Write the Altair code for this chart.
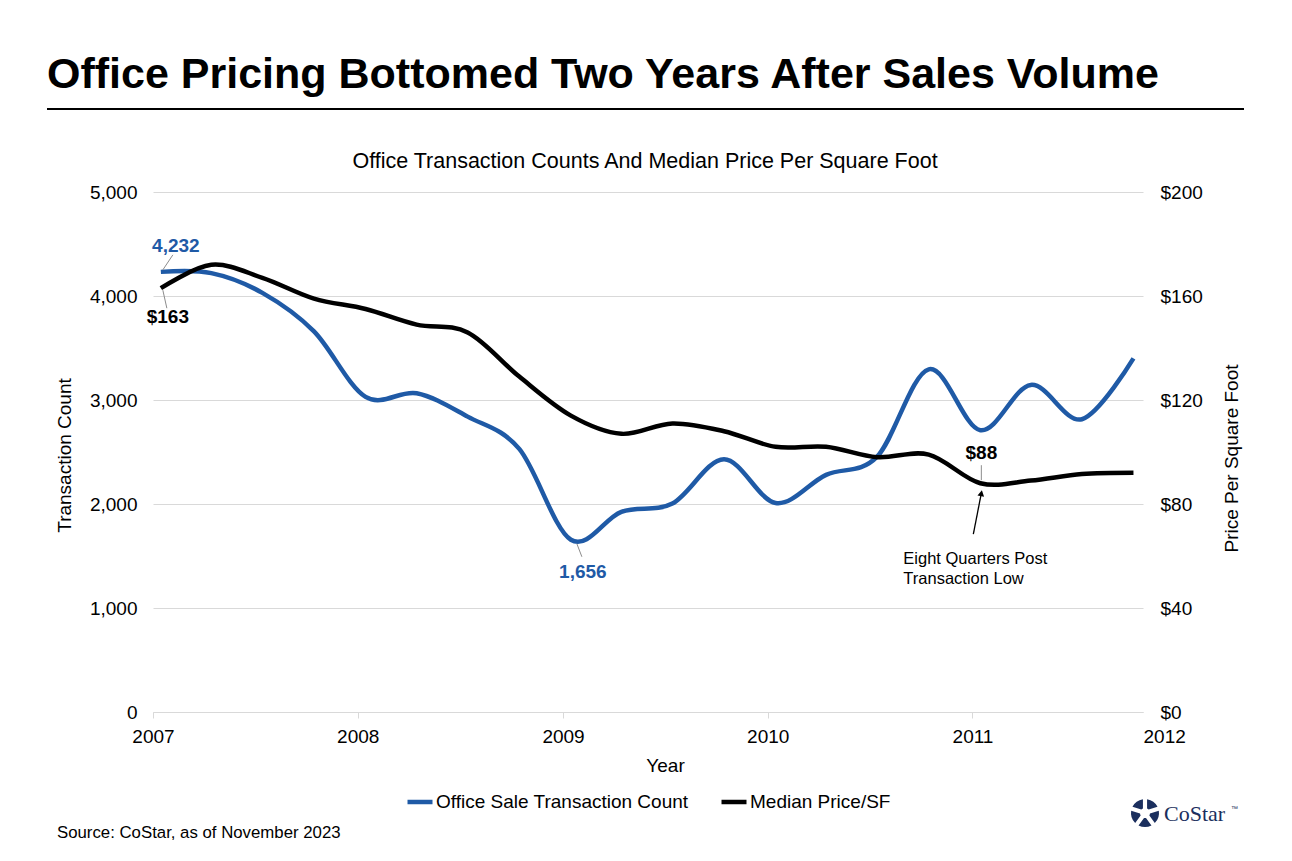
import altair as alt
import pandas as pd

FONT = "Liberation Sans"
SERIF = "Liberation Serif"

# ---------------- data ----------------
quarters = [
    "2007-01-15", "2007-04-15", "2007-07-15", "2007-10-15",
    "2008-01-15", "2008-04-15", "2008-07-15", "2008-10-15",
    "2009-01-15", "2009-04-15", "2009-07-15", "2009-10-15",
    "2010-01-15", "2010-04-15", "2010-07-15", "2010-10-15",
    "2011-01-15", "2011-04-15", "2011-07-15", "2011-10-15",
]
counts = [4232, 4220, 4030, 3660, 3030, 3065, 2840, 2530, 1656, 1925,
          2005, 2430, 2010, 2280, 2455, 3295, 2710, 3145, 2815, 3400]
prices = [163, 172, 167, 159, 155, 149, 146, 129, 114, 107,
          111, 108, 102, 102, 98, 99, 88, 89, 91.5, 92]
series_names = ["Office Sale Transaction Count", "Median Price/SF"]
series_colors = ["#1f5aa6", "#000000"]
left_ticks = [0, 1000, 2000, 3000, 4000, 5000]
right_ticks = [0, 40, 80, 120, 160, 200]
year_ticks = [2007, 2008, 2009, 2010, 2011]

title_text = "Office Pricing Bottomed Two Years After Sales Volume"
subtitle_text = "Office Transaction Counts And Median Price Per Square Foot"
source_text = "Source: CoStar, as of November 2023"
note_lines = ["Eight Quarters Post", "Transaction Low"]

BLUE = series_colors[0]
GRID = "#d9d9d9"
LEADER = "#8c8c8c"

df_count = pd.DataFrame({"date": quarters, "value": counts, "series": series_names[0]})
df_price = pd.DataFrame({"date": quarters, "value": prices, "series": series_names[1]})

end_dt = alt.DateTime(year=2011, month=11, date=1, utc=True)
x_values = [alt.DateTime(year=y, month=1, date=1, utc=True) for y in year_ticks] + [end_dt]
last_test = "utcmonth(datum.value) == 10"

x_enc = alt.X(
    "date:T",
    title="Year",
    scale=alt.Scale(type="utc", domain=[alt.DateTime(year=2007, month=1, date=1, utc=True), end_dt]),
    axis=alt.Axis(
        values=x_values,
        labelExpr=f"{last_test} ? '2012' : utcFormat(datum.value, '%Y')",
        labelAlign={"condition": {"test": last_test, "value": "left"}, "value": "center"},
        tickOpacity={"condition": {"test": last_test, "value": 0}, "value": 1},
        grid=False, domainColor=GRID, tickColor=GRID, tickSize=6,
        labelPadding=9, labelFontSize=19, labelColor="black", labelFont=FONT,
        titleFontSize=19, titleFontWeight="normal", titleFont=FONT, titleColor="black",
        titleX=512, titleY=59, titleBaseline="alphabetic", titleAnchor="start", titleAlign="center",
    ),
)

color_enc = alt.Color(
    "series:N",
    scale=alt.Scale(domain=series_names, range=series_colors),
    legend=alt.Legend(
        orient="none", legendX=252, legendY=595, direction="horizontal", title=None,
        symbolType="stroke", symbolStrokeWidth=4.5, symbolSize=625,
        labelFontSize=19, labelFont=FONT, labelColor="black", labelOffset=1,
        columnPadding=23, labelLimit=500,
    ),
)

# ---------------- left group: counts ----------------
count_line = alt.Chart(df_count).mark_line(interpolate="cardinal", strokeWidth=4.5).encode(
    x=x_enc,
    y=alt.Y(
        "value:Q",
        scale=alt.Scale(domain=[0, 5000], nice=False),
        axis=alt.Axis(
            orient="left", values=left_ticks, format=",.0f", title="Transaction Count",
            grid=True, gridColor=GRID, domain=False, ticks=False, labelPadding=16,
            labelFontSize=19, labelFont=FONT, labelColor="black",
            titleFontSize=19, titleFontWeight="normal", titleFont=FONT, titleColor="black",
            titleAngle=270, titleX=-89, titleY=263, titleBaseline="middle", titleAlign="center",
        ),
    ),
    color=color_enc,
)


def point_label(df_row, text, dx, dy, color):
    d = pd.DataFrame({"date": [df_row[0]], "value": [df_row[1]], "t": [text]})
    return alt.Chart(d).mark_text(
        fontSize=19, fontWeight="bold", font=FONT, color=color, align="center",
        baseline="alphabetic", dx=dx, dy=dy,
    ).encode(x="date:T", y="value:Q", text="t:N")


def leader(df_row, x0, y0, x1, y1, color=LEADER, width=1):
    d = pd.DataFrame({"date": [df_row[0]], "value": [df_row[1]]})
    return alt.Chart(d).mark_rule(
        color=color, strokeWidth=width, xOffset=x0, yOffset=y0, x2Offset=x1, y2Offset=y1,
    ).encode(x="date:T", y="value:Q", x2="date:T", y2="value:Q")


hi_c = (quarters[0], counts[0])
lo_c = (quarters[8], counts[8])
left_group = alt.layer(
    count_line,
    leader(hi_c, 12, -17, 2, -2),
    point_label(hi_c, "4,232", 15, -20, BLUE),
    leader(lo_c, 6, 4, 11, 17),
    point_label(lo_c, "1,656", 12, 38, BLUE),
)

# ---------------- right group: prices ----------------
price_line = alt.Chart(df_price).mark_line(interpolate="cardinal", strokeWidth=4.5).encode(
    x=x_enc,
    y=alt.Y(
        "value:Q",
        scale=alt.Scale(domain=[0, 200], nice=False),
        axis=alt.Axis(
            orient="right", values=right_ticks, format="$.0f", title="Price Per Square Foot",
            grid=False, domain=False, ticks=False, labelPadding=17,
            labelFontSize=19, labelFont=FONT, labelColor="black",
            titleFontSize=19, titleFontWeight="normal", titleFont=FONT, titleColor="black",
            titleAngle=270, titleX=88, titleY=266, titleBaseline="middle", titleAlign="center",
        ),
    ),
    color=color_enc,
)

p0 = (quarters[0], prices[0])
plo = (quarters[16], prices[16])

arrow_head = alt.Chart(pd.DataFrame({"date": [plo[0]], "value": [plo[1]]})).mark_point(
    shape="triangle-up", filled=True, size=45, color="black", opacity=1, angle=11,
    xOffset=1, yOffset=10,
).encode(x="date:T", y="value:Q")

note = alt.Chart(pd.DataFrame({"date": [plo[0]], "value": [plo[1]]})).mark_text(
    fontSize=16.5, font=FONT, color="black", align="left", baseline="alphabetic",
    dx=-77, dy=81, lineHeight=20,
).encode(x="date:T", y="value:Q", text=alt.value(note_lines))

right_group = alt.layer(
    price_line,
    leader(p0, 2, 2, 6, 20),
    point_label(p0, "$163", 7, 35, "black"),
    leader(plo, 1, -18, 1, -3),
    point_label(plo, "$88", 1, -24, "black"),
    leader(plo, -7, 51, 1, 10, color="black", width=1.3),
    arrow_head,
    note,
)

# ---------------- decorations ----------------
def free_text(text, x, y, size, weight="normal", align="left", color="black", font=FONT):
    return alt.Chart(pd.DataFrame({"t": [text]})).mark_text(
        align=align, baseline="alphabetic", fontSize=size, fontWeight=weight,
        color=color, font=font,
    ).encode(x=alt.value(x), y=alt.value(y), text="t:N")


title_mark = free_text(title_text, -106, -104, 43, weight="bold")
title_rule = alt.Chart(pd.DataFrame({"a": [0]})).mark_rule(color="black", strokeWidth=2).encode(
    x=alt.value(-106), x2=alt.value(1091), y=alt.value(-83)
)
subtitle_mark = free_text(subtitle_text, 492, -24, 21.5, align="center")
source_mark = free_text(source_text, -96, 646, 16.8)
logo_text = free_text("CoStar", 1011, 629, 22, color="#1b2f5e", font=SERIF)
logo_tm = free_text("™", 1078, 619, 7, color="#1b2f5e")
logo_icon = alt.Chart(pd.DataFrame({"v": [1, 1, 1, 1, 1]})).mark_arc(
    innerRadius=5, outerRadius=14, padAngle=0.28, color="#1b2f5e",
).encode(theta="v:Q", x=alt.value(992), y=alt.value(621))

chart = alt.layer(
    left_group, right_group,
    title_mark, title_rule, subtitle_mark, source_mark, logo_text, logo_tm, logo_icon,
).resolve_scale(y="independent").properties(
    width=990, height=520,
    autosize=alt.AutoSizeParams(type="none"),
    padding={"left": 145, "top": 184, "right": 141, "bottom": 141},
    background="white",
).configure_view(stroke=None)

chart.save("out.html", embed_options={"renderer": "svg", "actions": False})
